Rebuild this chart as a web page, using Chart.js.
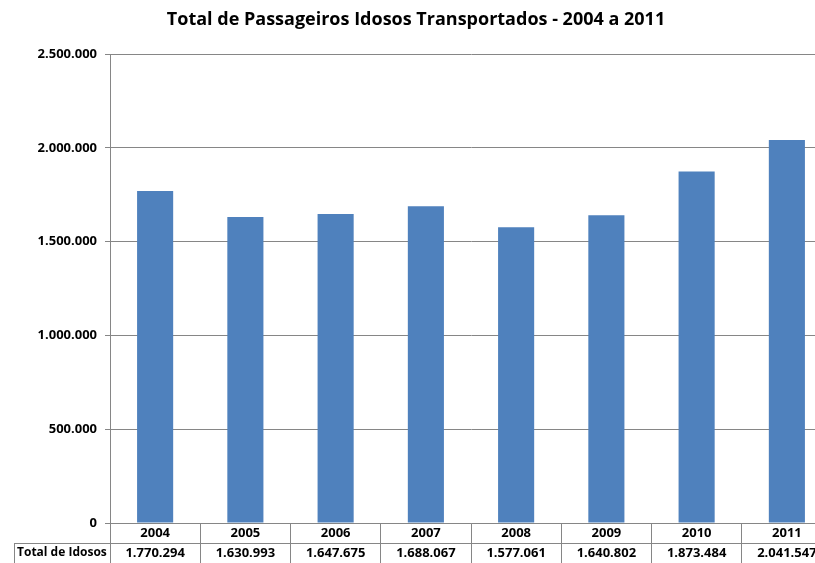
<!DOCTYPE html>
<html>
<head>
<meta charset="utf-8">
<script src="https://cdn.jsdelivr.net/npm/chart.js@4"></script>
<style>
  html, body { margin: 0; padding: 0; background: #fff; overflow: hidden; }
  #wrap { width: 832px; height: 563px; }
</style>
</head>
<body>
<div id="wrap"><canvas id="idososChart" width="832" height="563"></canvas></div>
<script>
// ==============================
// Data
// ==============================
const years = ['2004', '2005', '2006', '2007', '2008', '2009', '2010', '2011'];
const totalIdosos = [1770294, 1630993, 1647675, 1688067, 1577061, 1640802, 1873484, 2041547];
const rowLabel = 'Total de Idosos';
const chartTitle = 'Total de Passageiros Idosos Transportados - 2004 a 2011';

const FONT = '"Open Sans", "Noto Sans", sans-serif';
const GRID = '#868686';

// 1770294 -> 1.770.294
function fmt(v) {
    return String(v).replace(/\B(?=(\d{3})+(?!\d))/g, '.');
}

// ==============================
// Data table below the x axis
// ==============================
const dataTable = {
    id: 'dataTable',
    afterDraw(chart) {
        const ctx = chart.ctx;
        const x = chart.scales.x;
        const area = chart.chartArea;
        const rowH = 20;
        const midY = area.bottom + rowH;

        ctx.save();
        ctx.strokeStyle = GRID;
        ctx.lineWidth = 1;
        ctx.beginPath();
        ctx.moveTo(14, midY + 0.5);
        ctx.lineTo(chart.width, midY + 0.5);
        ctx.moveTo(14.5, midY);
        ctx.lineTo(14.5, chart.height);
        ctx.stroke();

        ctx.fillStyle = '#000';
        ctx.font = 'bold 13px ' + FONT;
        ctx.textBaseline = 'middle';
        ctx.textAlign = 'center';
        years.forEach((y, i) => {
            const cx = x.getPixelForTick(i);
            ctx.fillText(y, cx, area.bottom + rowH / 2);
            ctx.fillText(fmt(totalIdosos[i]), cx, midY + rowH / 2);
        });
        // row header is a bit narrower so it fits its cell
        ctx.font = 'bold 12px ' + FONT;
        ctx.textAlign = 'left';
        ctx.fillText(rowLabel, 17, midY + rowH / 2);
        ctx.restore();
    }
};

// ==============================
// Chart.js Initialization
// ==============================
const ctx = document.getElementById('idososChart').getContext('2d');
const idososChart = new Chart(ctx, {
    type: 'bar',
    data: {
        labels: years,
        datasets: [{
            label: rowLabel,
            data: totalIdosos,
            backgroundColor: '#4F81BD',
            categoryPercentage: 0.8,
            barPercentage: 0.5
        }]
    },
    options: {
        responsive: false,
        animation: false,
        devicePixelRatio: 1,
        layout: { padding: { left: 0, right: 0, top: 0, bottom: 0 } },
        plugins: {
            legend: { display: false },
            tooltip: { enabled: false },
            title: {
                display: true,
                text: chartTitle,
                color: '#000',
                font: { family: FONT, size: 18, weight: 'bold', lineHeight: 1.2 },
                padding: { top: 9, bottom: 23.4 }
            }
        },
        scales: {
            x: {
                ticks: { display: false },
                grid: {
                    offset: true,
                    drawOnChartArea: false,
                    drawTicks: true,
                    tickLength: 40,
                    color: GRID
                },
                border: { color: GRID },
                afterFit(scale) { scale.height = 40; }
            },
            y: {
                min: 0,
                max: 2500000,
                ticks: {
                    stepSize: 500000,
                    padding: 8,
                    color: '#000',
                    font: { family: FONT, size: 13, weight: 'bold' },
                    callback: (v) => fmt(v)
                },
                grid: { color: GRID, tickLength: 5 },
                border: { color: GRID },
                afterFit(scale) { scale.width = 110; }
            }
        }
    },
    plugins: [dataTable]
});
</script>
</body>
</html>
